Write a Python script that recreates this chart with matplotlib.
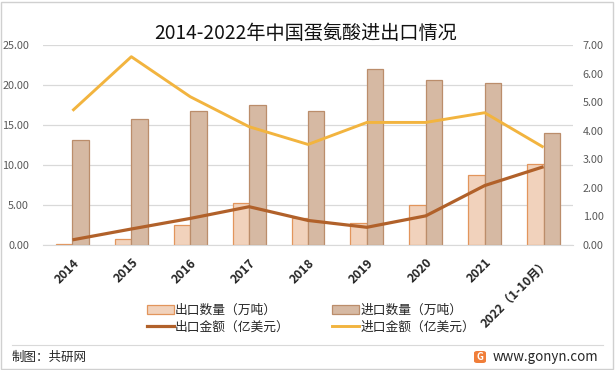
import matplotlib.pyplot as plt
from matplotlib.patches import Rectangle, FancyBboxPatch
from matplotlib.lines import Line2D
from matplotlib.ticker import FormatStrFormatter

plt.rcParams['font.family'] = ['Noto Sans CJK SC', 'DejaVu Sans']

years = ["2014", "2015", "2016", "2017", "2018", "2019", "2020", "2021", "2022（1-10月）"]
export_qty = [0.15, 0.8, 2.5, 5.2, 3.4, 2.8, 5.0, 8.8, 10.1]
import_qty = [13.1, 15.7, 16.7, 17.5, 16.8, 22.0, 20.6, 20.3, 14.0]
export_amt = [0.18, 0.56, 0.93, 1.34, 0.86, 0.62, 1.02, 2.08, 2.74]
import_amt = [4.70, 6.59, 5.19, 4.14, 3.52, 4.29, 4.29, 4.63, 3.42]

c_exp_bar = "#F1D2BC"
c_exp_edge = "#E2955C"
c_imp_bar = "#D6B9A3"
c_imp_edge = "#BB8D6B"
c_exp_line = "#B1612A"
c_imp_line = "#F2B43F"
gray = "#595959"

fig = plt.figure(figsize=(6.15, 3.7), dpi=100)
ax = fig.add_axes([43 / 615, 1 - 245 / 370, 530 / 615, 200 / 370])
ax2 = ax.twinx()

x = list(range(len(years)))
w = 0.28
ax.bar([i - w / 2 for i in x], export_qty, w, color=c_exp_bar, edgecolor=c_exp_edge, linewidth=0.9, zorder=2)
ax.bar([i + w / 2 for i in x], import_qty, w, color=c_imp_bar, edgecolor=c_imp_edge, linewidth=0.9, zorder=2)
ax2.plot(x, export_amt, color=c_exp_line, lw=2.3, solid_capstyle='butt')
ax2.plot(x, import_amt, color=c_imp_line, lw=2.1, solid_capstyle='butt')

ax.set_xlim(-0.5, len(years) - 0.5)
ax.set_ylim(0, 25)
ax.set_yticks([0, 5, 10, 15, 20, 25])
ax2.set_ylim(0, 7)
ax2.set_yticks(range(8))
ax.yaxis.set_major_formatter(FormatStrFormatter('%.2f'))
ax2.yaxis.set_major_formatter(FormatStrFormatter('%.2f'))
ax.grid(axis='y', color='#D9D9D9', lw=0.9, zorder=0)
ax.set_axisbelow(True)

for a in (ax, ax2):
    for s in a.spines.values():
        s.set_visible(False)
ax.spines['bottom'].set_visible(True)
ax.spines['bottom'].set_color('#D9D9D9')

ax.tick_params(axis='y', length=0, pad=10, labelsize=7.8, labelcolor=gray)
ax2.tick_params(axis='y', length=0, pad=7, labelsize=7.8, labelcolor=gray)
ax.set_xticks(x)
ax.set_xticklabels(years, rotation=45, ha='right', va='top', rotation_mode='anchor',
                   fontsize=8.8, fontweight='bold', color='#262626')
ax.tick_params(axis='x', length=0, pad=8)

fig.text(0.497, 1 - 33 / 370, "2014-2022年中国蛋氨酸进出口情况", ha='center', va='center',
         fontsize=13.8, color='#111111')

handles = [Rectangle((0, 0), 1, 1, facecolor=c_exp_bar, edgecolor=c_exp_edge, lw=0.9),
           Rectangle((0, 0), 1, 1, facecolor=c_imp_bar, edgecolor=c_imp_edge, lw=0.9),
           Line2D([], [], color=c_exp_line, lw=2.3),
           Line2D([], [], color=c_imp_line, lw=2.1)]
labels = ["出口数量（万吨）", "进口数量（万吨）", "出口金额（亿美元）", "进口金额（亿美元）"]
order = [0, 2, 1, 3]
fig.legend([handles[i] for i in order], [labels[i] for i in order], ncol=2,
           loc='center', bbox_to_anchor=(311 / 615, 1 - 319 / 370), frameon=False,
           fontsize=9.2, handlelength=2.1, handleheight=0.7, handletextpad=0.1,
           columnspacing=3.3, labelspacing=0.3, labelcolor='#262626')

# frame, separator and footer
fig.patches.append(Rectangle((1 / 615, 1 / 370), 612 / 615, 367 / 370, transform=fig.transFigure,
                             fill=False, edgecolor='#D0D0D0', lw=1))
fig.lines.append(Line2D([12 / 615, 603 / 615], [1 - 345 / 370] * 2, transform=fig.transFigure,
                        color='#D9D9D9', lw=0.8))
fig.text(12 / 615, 1 - 357 / 370, "制图：共研网", ha='left', va='center', fontsize=9, color='#262626')
fig.text(598 / 615, 1 - 357 / 370, "www.gonyn.com", ha='right', va='center', fontsize=9.6, color='#262626')
fig.patches.append(FancyBboxPatch((474 / 615, 1 - 363 / 370), 12 / 615, 12 / 370, transform=fig.transFigure,
                                  boxstyle='round,pad=0,rounding_size=0.005', facecolor='#F07E3A',
                                  edgecolor='none'))
fig.text(480 / 615, 1 - 357 / 370, "G", ha='center', va='center', fontsize=7, color='white',
         fontweight='bold')

fig.savefig("out.png", dpi=100)
